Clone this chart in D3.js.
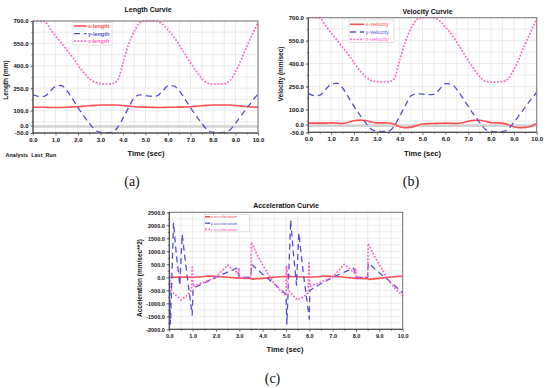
<!DOCTYPE html>
<html><head><meta charset="utf-8">
<script src="https://cdn.jsdelivr.net/npm/d3@7"></script>
<style>
body{margin:0;background:#fff}
svg{display:block}
text{font-family:"Liberation Sans",Arial,sans-serif}
text.cap{font-family:"Liberation Serif","Times New Roman",serif}
</style>
</head><body>
<svg id="chart" width="550" height="388"></svg>
<script>
// ---------- data ----------
const timeLV = [0,0.25,0.5,0.75,1,1.25,1.5,1.75,2,2.25,2.5,2.75,3,3.25,3.5,3.75,4,4.25,4.5,4.75,5,5.25,5.5,5.75,6,6.25,6.5,6.75,7,7.25,7.5,7.75,8,8.25,8.5,8.75,9,9.25,9.5,9.75,10];

const xLength = [122,122,122,121,121,121,122,124,126,129,132,135,137,138,138,137,134,130,126,124,123,122,121,121,122,122,123,124,126,129,132,135,137,138,138,137,134,130,127,124,122];
const yLength = [205,195,195,228,262,268,235,180,120,65,15,-28,-45,-47,-46,-15,50,120,185,205,200,196,198,230,265,265,232,178,120,65,15,-30,-45,-47,-46,-30,15,65,115,165,212];
const zLength = [700,700,698,650,600,555,506,460,405,355,315,290,280,278,280,300,420,545,630,688,700,702,700,680,640,595,540,480,420,365,315,285,278,278,280,300,360,440,530,610,690];

const xVelocity = [10,10,10,10,12,11,8,16,26,30,27,18,12,12,11,4,-14,-20,-16,-6,4,7,8,9,10,9,8,12,22,28,29,22,13,12,10,0,-14,-20,-18,-10,8];
const yVelocity = [205,190,192,230,265,272,240,182,120,65,15,-28,-42,-44,-43,-12,55,125,190,202,200,196,198,232,268,266,232,178,120,65,15,-30,-44,-46,-45,-30,15,65,115,165,212];
const zVelocity = [700,700,698,650,600,555,506,460,405,355,315,290,281,279,281,300,420,545,630,688,700,702,700,680,640,595,540,480,420,365,315,285,279,279,281,300,360,440,530,610,690];

const accTimeX = [0,0.5,1.0,1.5,1.6,2.0,2.5,3.0,3.5,3.55,4.0,4.5,5.0,5.5,6.0,6.5,6.6,7.0,7.5,8.0,8.5,8.55,9.0,9.5,10];
const accX     = [0,10,0,30,50,40,0,-30,-40,-70,-40,0,40,20,0,30,50,40,0,-40,-50,-80,-40,10,50];
const accTimeY = [0,0.05,0.18,0.3,0.45,0.55,0.75,0.98,1.02,1.5,2.0,2.5,2.9,3.0,3.5,3.52,4.0,4.5,5.0,5.04,5.2,5.32,5.45,5.55,5.75,6.0,6.02,6.5,7.0,7.5,7.9,8.0,8.5,8.52,9.0,9.5,10];
const accY     = [300,-1800,2100,900,-300,1650,150,-1450,-420,-220,0,200,350,0,0,500,120,-260,-650,-1800,2200,900,-300,1700,100,-1600,-500,-250,0,200,350,0,0,550,170,-200,-600];
const accTimeZ = [0,0.04,0.12,0.3,0.5,0.7,0.95,0.98,1.02,1.5,2.0,2.5,2.95,2.98,3.02,3.5,3.52,3.75,4.0,4.25,4.5,4.75,5.0,5.02,5.1,5.3,5.5,5.75,5.95,5.98,6.02,6.5,7.0,7.5,7.95,7.98,8.02,8.5,8.52,8.75,9.0,9.25,9.5,9.75,10];
const accZ     = [440,-400,-550,-700,-870,-750,-500,450,-350,-180,0,470,150,350,0,0,1350,880,480,100,-250,-500,-700,450,-500,-700,-870,-750,-600,600,-350,-180,0,500,150,350,0,0,1300,880,480,100,-250,-500,-700];

const xTickValues = [0,1,2,3,4,5,6,7,8,9,10];
const lvTickValues = [700,550,400,250,100,0,-50];
const accTickValues = [2500,2000,1500,1000,500,0,-500,-1000,-1500,-2000];

const lengthNames = ["x-length","y-length","z-length"];
const velocityNames = ["x-velocity","y-velocity","z-velocity"];
const accNames = ["x-acceleration","y-acceleration","z-acceleration"];

// ---------- styles ----------
const RED = "#ff4f4f", BLUE = "#5050dc", PINK = "#ff63c6";
const seriesStyle = [
  {color: RED, dash: null, width: 1.6},
  {color: BLUE, dash: "6,4", width: 1.3},
  {color: PINK, dash: "1.8,1.6", width: 1.7}
];

const svg = d3.select("#chart");
const fmt = d3.format(".1f");
const fmtTick = v => fmt(v).replace("\u2212", "-");
let clipId = 0;

function drawPanel(o) {
  const x = d3.scaleLinear().domain([0, 10]).range([o.left, o.right]);
  const y = d3.scaleLinear().domain(o.yDomain).range([o.bottom, o.top]);
  const g = svg.append("g");

  // grid
  const xGrid = d3.range(0, 10.01, 0.5);
  const yGrid = d3.range(o.yDomain[1], o.yDomain[0] - 1e-6, -o.yMinor);
  g.append("g").selectAll("line").data(xGrid).join("line")
    .attr("x1", d => x(d)).attr("x2", d => x(d)).attr("y1", o.top).attr("y2", o.bottom)
    .attr("stroke", "#e4e4e4").attr("stroke-width", 0.7);
  g.append("g").selectAll("line").data(yGrid).join("line")
    .attr("y1", d => y(d)).attr("y2", d => y(d)).attr("x1", o.left).attr("x2", o.right)
    .attr("stroke", "#e4e4e4").attr("stroke-width", 0.7);
  if (o.zeroBand) {
    g.append("line").attr("x1", o.left).attr("x2", o.right)
      .attr("y1", y(0) + 1).attr("y2", y(0) + 1)
      .attr("stroke", "#d2d2d2").attr("stroke-width", 2.6);
  }

  // clip
  const cid = "clip" + (clipId++);
  svg.append("clipPath").attr("id", cid).append("rect")
    .attr("x", o.left).attr("y", o.top - 1).attr("width", o.right - o.left).attr("height", o.bottom - o.top + 2);

  const line = d3.line().x(d => x(d[0])).y(d => y(d[1]));
  if (o.smooth) line.curve(d3.curveMonotoneX);
  const lines = g.append("g").attr("clip-path", `url(#${cid})`);
  o.series.forEach((s, i) => {
    const st = seriesStyle[i];
    const pts = s.t.map((t, k) => [t, s.v[k]]);
    lines.append("path").datum(pts).attr("d", line)
      .attr("fill", "none").attr("stroke", st.color).attr("stroke-width", st.width)
      .attr("stroke-dasharray", st.dash).attr("stroke-linejoin", "round");
  });

  // frame
  g.append("rect").attr("x", o.left).attr("y", o.top)
    .attr("width", o.right - o.left).attr("height", o.bottom - o.top)
    .attr("fill", "none").attr("stroke", "#777").attr("stroke-width", 1);

  // axes
  const fs = o.tickFont;
  const xAx = g.append("g").attr("transform", `translate(0,${o.bottom})`)
    .call(d3.axisBottom(x).tickValues(xTickValues).tickSize(2.5).tickPadding(2).tickFormat(fmtTick));
  const xMin = g.append("g").attr("transform", `translate(0,${o.bottom})`)
    .call(d3.axisBottom(x).tickValues(d3.range(0.5, 10, 1)).tickSize(1.5).tickFormat(""));
  const yAx = g.append("g").attr("transform", `translate(${o.left},0)`)
    .call(d3.axisLeft(y).tickValues(o.yTicks).tickSize(2.5).tickPadding(2).tickFormat(fmtTick));
  const yMinT = g.append("g").attr("transform", `translate(${o.left},0)`)
    .call(d3.axisLeft(y).tickValues(yGrid).tickSize(1.5).tickFormat(""));
  [xAx, xMin, yAx, yMinT].forEach(a => {
    a.select(".domain").remove();
    a.selectAll("line").attr("stroke", "#555").attr("stroke-width", 0.8);
    a.selectAll("text").attr("font-size", fs).attr("font-weight", "bold").attr("fill", "#111")
      .attr("font-family", "'Liberation Sans',Arial,sans-serif");
  });
  g.append("line").attr("x1", o.left).attr("x2", o.left).attr("y1", o.top).attr("y2", o.bottom)
    .attr("stroke", "#444").attr("stroke-width", 1);
  g.append("line").attr("x1", o.left).attr("x2", o.right).attr("y1", o.bottom).attr("y2", o.bottom)
    .attr("stroke", "#444").attr("stroke-width", 1);

  // titles
  g.append("text").attr("x", o.titleX).attr("y", o.titleY).attr("text-anchor", "middle")
    .attr("font-size", 7).attr("font-weight", "bold").attr("fill", "#111").text(o.title);
  g.append("text").attr("x", o.xLabelX).attr("y", o.xLabelY).attr("text-anchor", "middle")
    .attr("font-size", 7.5).attr("font-weight", "bold").attr("fill", "#111").text("Time (sec)");
  g.append("text").attr("transform", `translate(${o.yLabelX},${o.yLabelY}) rotate(-90)`)
    .attr("text-anchor", "middle").attr("font-size", o.yLabelFont).attr("font-weight", "bold")
    .attr("fill", "#111").text(o.yLabel);
  g.append("text").attr("class", "cap").attr("x", o.capX).attr("y", o.capY).attr("text-anchor", "middle")
    .attr("font-size", 14).attr("fill", "#111").text(o.caption);

  // legend
  const L = o.legend;
  const lg = g.append("g");
  lg.append("rect").attr("x", L.x).attr("y", L.y).attr("width", L.w).attr("height", L.h)
    .attr("fill", "#fff").attr("stroke", "#cfcfcf").attr("stroke-width", 0.6);
  o.names.forEach((n, i) => {
    const st = seriesStyle[i];
    const ry = L.rows[i];
    lg.append("line").attr("x1", L.sx0).attr("x2", L.sx1).attr("y1", ry).attr("y2", ry)
      .attr("stroke", st.color).attr("stroke-width", st.width).attr("stroke-dasharray", st.dash);
    lg.append("text").attr("x", L.tx).attr("y", ry + L.fs * 0.35)
      .attr("font-size", L.fs).attr("font-weight", L.bold ? "bold" : "normal")
      .attr("fill", st.color).text(n);
  });
}

drawPanel({
  left: 33, right: 258, top: 21, bottom: 133,
  yDomain: [-50, 700], yTicks: lvTickValues, yMinor: 75, smooth: true, zeroBand: true,
  tickFont: 6,
  series: [{t: timeLV, v: xLength}, {t: timeLV, v: yLength}, {t: timeLV, v: zLength}],
  names: lengthNames,
  title: "Length Curvie", titleX: 148, titleY: 11.5,
  xLabelX: 146, xLabelY: 156, yLabel: "Length (mm)", yLabelX: 8, yLabelY: 80, yLabelFont: 6.5,
  caption: "(a)", capX: 132, capY: 186,
  legend: {x: 73, y: 22.5, w: 39, h: 22.5, rows: [26, 33.7, 41.2], sx0: 74, sx1: 86.5, tx: 88, fs: 5.5, bold: true}
});

drawPanel({
  left: 308.3, right: 536.7, top: 17.7, bottom: 132.3,
  yDomain: [-50, 700], yTicks: lvTickValues, yMinor: 75, smooth: true, zeroBand: true,
  tickFont: 6,
  series: [{t: timeLV, v: xVelocity}, {t: timeLV, v: yVelocity}, {t: timeLV, v: zVelocity}],
  names: velocityNames,
  title: "Velocity Curvie", titleX: 427.5, titleY: 13.5,
  xLabelX: 422.5, xLabelY: 155.5, yLabel: "Velocity (mm/sec)", yLabelX: 283, yLabelY: 74, yLabelFont: 6.5,
  caption: "(b)", capX: 411, capY: 186,
  legend: {x: 349, y: 20, w: 45, h: 22.5, rows: [24.3, 32, 39.3], sx0: 350, sx1: 364, tx: 365.5, fs: 5.6, bold: false}
});

drawPanel({
  left: 169.3, right: 402.7, top: 212.3, bottom: 329.3,
  yDomain: [-2000, 2500], yTicks: accTickValues, yMinor: 250, smooth: false, zeroBand: false,
  tickFont: 5.5,
  series: [{t: accTimeX, v: accX}, {t: accTimeY, v: accY}, {t: accTimeZ, v: accZ}],
  names: accNames,
  title: "Acceleration Curvie", titleX: 286, titleY: 207.5,
  xLabelX: 285, xLabelY: 352, yLabel: "Acceleration (mm/sec**2)", yLabelX: 141.5, yLabelY: 278, yLabelFont: 6.5,
  caption: "(c)", capX: 272.5, capY: 383,
  legend: {x: 204.3, y: 214.3, w: 45, h: 17.5, rows: [216.8, 223.2, 229.3], sx0: 205, sx1: 210, tx: 210.5, fs: 4.3, bold: false}
});

// analysis note
svg.append("text").attr("x", 5.5).attr("y", 157).attr("font-size", 5.5).attr("font-weight", "bold")
  .attr("fill", "#111").attr("xml:space", "preserve").style("white-space", "pre").text("Analysis  Last_Run");
</script>
</body></html>
